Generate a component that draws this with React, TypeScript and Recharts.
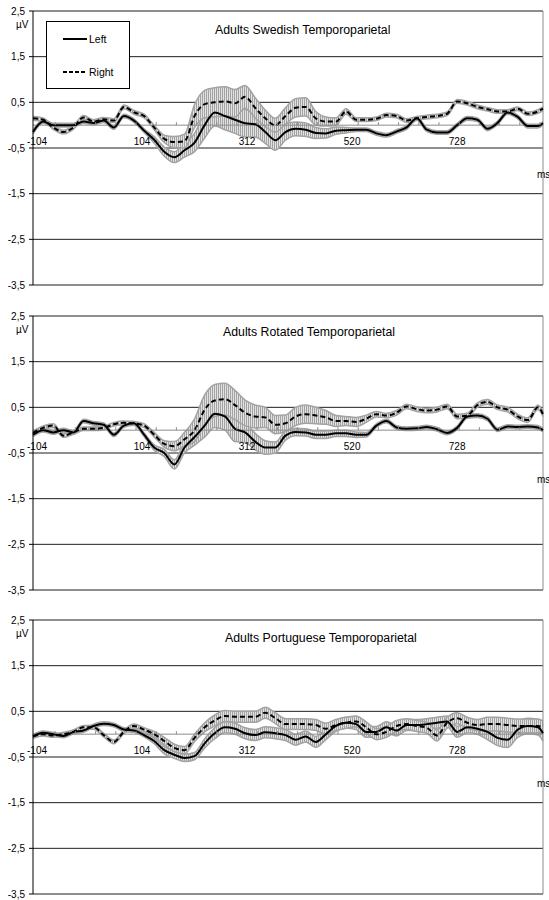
import React from "react";
import {
  ComposedChart,
  Line,
  Area,
  XAxis,
  YAxis,
  CartesianGrid,
  ReferenceLine,
  Legend,
} from "recharts";

// sample times (ms)
const times = [
  -112, -92, -72, -52, -32, -12, 8, 28, 48, 68, 88, 108, 128,
  148, 168, 188, 208, 228, 248, 268, 288, 308, 328, 348, 368, 388,
  408, 428, 448, 468, 488, 508, 528, 548, 568, 588, 608, 628, 648,
  668, 688, 708, 728, 748, 768, 788, 808, 828, 848, 868, 888, 898,
];

const labelTicks = [-104, 104, 312, 520, 728];
const minorTicks = [
  -68, -28, 12, 52, 92, 132, 172, 212, 252, 292, 332, 372, 412, 452, 492,
  532, 572, 612, 652, 692, 732, 772, 812, 852, 892,
];
const yTicks = [2.5, 1.5, 0.5, -0.5, -1.5, -2.5, -3.5];

const swedishLeft = [
  -0.15, 0.08, 0.0, 0.0, 0.0, 0.08, 0.05, 0.1, -0.05, 0.2, 0.1, -0.12, -0.32,
  -0.58, -0.7, -0.55, -0.38, 0.0, 0.28, 0.2, 0.12, 0.04, 0.02, -0.15, -0.33, -0.15,
  -0.08, -0.1, -0.17, -0.18, -0.12, -0.11, -0.1, -0.1, -0.18, -0.22, -0.14, -0.05, 0.15,
  -0.1, -0.16, -0.16, 0.0, 0.15, 0.12, -0.08, 0.05, 0.28, 0.18, -0.02, -0.02, 0.04,
];
const swedishRight = [
  0.15, 0.12, -0.05, -0.15, -0.05, 0.17, 0.08, 0.13, 0.1, 0.4, 0.28, 0.2, -0.05,
  -0.3, -0.37, -0.35, 0.2, 0.46, 0.5, 0.52, 0.48, 0.62, 0.38, 0.15, 0.0, 0.2,
  0.38, 0.4, 0.15, 0.08, 0.08, 0.3, 0.12, 0.12, 0.14, 0.22, 0.2, 0.1, 0.15,
  0.18, 0.2, 0.25, 0.52, 0.48, 0.4, 0.35, 0.3, 0.3, 0.36, 0.25, 0.3, 0.36,
];
const swedishLeftErr = [
  0.04, 0.04, 0.04, 0.04, 0.04, 0.04, 0.04, 0.04, 0.04, 0.04, 0.04, 0.04, 0.07,
  0.1, 0.12, 0.15, 0.2, 0.28, 0.3, 0.3, 0.3, 0.3, 0.28, 0.25, 0.22, 0.18,
  0.15, 0.15, 0.12, 0.1, 0.08, 0.06, 0.04, 0.04, 0.04, 0.04, 0.04, 0.04, 0.04,
  0.04, 0.04, 0.04, 0.04, 0.04, 0.04, 0.04, 0.04, 0.04, 0.04, 0.04, 0.04, 0.04,
];
const swedishRightErr = [
  0.04, 0.04, 0.04, 0.04, 0.04, 0.04, 0.04, 0.04, 0.04, 0.04, 0.04, 0.04, 0.05,
  0.08, 0.12, 0.15, 0.25, 0.3, 0.32, 0.32, 0.3, 0.25, 0.22, 0.18, 0.15, 0.18,
  0.2, 0.2, 0.15, 0.1, 0.08, 0.06, 0.04, 0.04, 0.04, 0.04, 0.04, 0.04, 0.04,
  0.04, 0.04, 0.04, 0.04, 0.04, 0.04, 0.04, 0.04, 0.04, 0.04, 0.04, 0.04, 0.04,
];

const rotatedLeft = [
  -0.1, 0.0, -0.05, 0.0, -0.05, 0.2, 0.15, 0.12, -0.1, 0.1, 0.15, -0.1, -0.38,
  -0.5, -0.75, -0.38, -0.15, 0.1, 0.36, 0.3, 0.03, -0.05, -0.25, -0.38, -0.38, -0.12,
  -0.04, -0.05, -0.1, -0.1, -0.07, -0.07, -0.1, -0.1, 0.1, 0.2, 0.06, 0.03, 0.04,
  0.07, 0.02, -0.06, 0.05, 0.3, 0.32, 0.25, 0.01, 0.08, 0.07, 0.08, 0.06, 0.0,
];
const rotatedRight = [
  -0.06, 0.05, 0.1, -0.12, -0.05, 0.03, 0.03, 0.05, 0.13, 0.16, 0.15, 0.1, -0.1,
  -0.3, -0.35, -0.2, 0.0, 0.45, 0.65, 0.68, 0.55, 0.38, 0.3, 0.28, 0.12, 0.15,
  0.3, 0.35, 0.32, 0.28, 0.2, 0.2, 0.18, 0.25, 0.35, 0.32, 0.38, 0.52, 0.46,
  0.43, 0.45, 0.52, 0.3, 0.32, 0.55, 0.62, 0.5, 0.45, 0.3, 0.22, 0.5, 0.35,
];
const rotatedLeftErr = [
  0.04, 0.04, 0.04, 0.04, 0.04, 0.04, 0.04, 0.04, 0.04, 0.04, 0.04, 0.04, 0.06,
  0.08, 0.1, 0.12, 0.18, 0.25, 0.3, 0.3, 0.28, 0.22, 0.18, 0.15, 0.12, 0.1,
  0.08, 0.08, 0.08, 0.08, 0.07, 0.07, 0.06, 0.05, 0.04, 0.04, 0.04, 0.04, 0.04,
  0.04, 0.04, 0.04, 0.04, 0.04, 0.04, 0.04, 0.04, 0.04, 0.04, 0.04, 0.04, 0.04,
];
const rotatedRightErr = [
  0.04, 0.04, 0.04, 0.04, 0.04, 0.04, 0.04, 0.04, 0.04, 0.04, 0.04, 0.04, 0.05,
  0.07, 0.1, 0.15, 0.25, 0.32, 0.35, 0.35, 0.32, 0.28, 0.25, 0.22, 0.2, 0.18,
  0.2, 0.2, 0.18, 0.15, 0.12, 0.1, 0.1, 0.08, 0.06, 0.05, 0.05, 0.05, 0.05,
  0.05, 0.05, 0.05, 0.05, 0.05, 0.05, 0.05, 0.05, 0.05, 0.05, 0.05, 0.05, 0.05,
];

const portugueseLeft = [
  -0.05, 0.03, 0.0, -0.04, 0.05, 0.08, 0.18, 0.23, 0.2, 0.1, 0.08, -0.02, -0.15,
  -0.35, -0.45, -0.52, -0.48, -0.2, 0.02, 0.15, 0.12, 0.02, -0.02, 0.04, 0.02, -0.02,
  -0.12, -0.05, -0.17, 0.0, 0.18, 0.25, 0.22, 0.05, 0.05, 0.15, 0.08, 0.2, 0.2,
  0.22, 0.25, 0.28, 0.05, 0.15, 0.12, 0.05, -0.08, -0.12, 0.1, 0.18, 0.15, 0.02,
];
const portugueseRight = [
  -0.05, 0.0, -0.03, 0.0, 0.05, 0.15, 0.15, -0.02, -0.17, 0.05, 0.18, 0.1, 0.0,
  -0.15, -0.3, -0.35, -0.08, 0.15, 0.3, 0.4, 0.38, 0.38, 0.38, 0.47, 0.35, 0.22,
  0.22, 0.22, 0.2, 0.12, 0.2, 0.25, 0.28, 0.15, 0.0, 0.05, 0.18, 0.22, 0.18,
  0.14, -0.03, 0.25, 0.35, 0.25, 0.2, 0.22, 0.22, 0.2, 0.18, 0.18, 0.18, 0.14,
];
const portugueseLeftErr = [
  0.04, 0.04, 0.04, 0.04, 0.04, 0.04, 0.04, 0.04, 0.04, 0.04, 0.04, 0.04, 0.06,
  0.08, 0.08, 0.08, 0.08, 0.1, 0.12, 0.12, 0.12, 0.12, 0.12, 0.12, 0.12, 0.12,
  0.12, 0.12, 0.12, 0.12, 0.12, 0.12, 0.12, 0.12, 0.12, 0.12, 0.12, 0.12, 0.12,
  0.12, 0.12, 0.12, 0.12, 0.12, 0.12, 0.17, 0.17, 0.17, 0.17, 0.17, 0.17, 0.17,
];
const portugueseRightErr = [
  0.04, 0.04, 0.04, 0.04, 0.04, 0.04, 0.04, 0.04, 0.04, 0.04, 0.04, 0.04, 0.06,
  0.08, 0.08, 0.08, 0.08, 0.1, 0.12, 0.12, 0.12, 0.12, 0.12, 0.12, 0.12, 0.12,
  0.12, 0.12, 0.12, 0.12, 0.12, 0.12, 0.12, 0.12, 0.12, 0.12, 0.12, 0.12, 0.12,
  0.12, 0.12, 0.12, 0.12, 0.12, 0.12, 0.15, 0.15, 0.15, 0.15, 0.15, 0.15, 0.15,
];

const FONT = '"Liberation Sans", Arial, sans-serif';
const W = 549;
const H = 304;
const TOP = 11;
const PLOT_H = 274;
const ZERO_Y = TOP + (PLOT_H * 2.5) / 6;
const FRAME = "#8c8c8c";

const panels = [
  {
    title: "Adults Swedish Temporoparietal",
    top: 0,
    titleLeft: 215,
    titleTop: 23.6,
    left: swedishLeft,
    right: swedishRight,
    leftErr: swedishLeftErr,
    rightErr: swedishRightErr,
    legend: true,
  },
  {
    title: "Adults Rotated Temporoparietal",
    top: 305,
    titleLeft: 223,
    titleTop: 21.1,
    left: rotatedLeft,
    right: rotatedRight,
    leftErr: rotatedLeftErr,
    rightErr: rotatedRightErr,
    legend: false,
  },
  {
    title: "Adults Portuguese Temporoparietal",
    top: 609,
    titleLeft: 225,
    titleTop: 22.6,
    left: portugueseLeft,
    right: portugueseRight,
    leftErr: portugueseLeftErr,
    rightErr: portugueseRightErr,
    legend: false,
  },
];

function XTick(props: any) {
  const { x, payload } = props;
  const v = payload.value;
  if (labelTicks.includes(v)) {
    return (
      <text x={x} y={ZERO_Y + 20} textAnchor="middle" fontSize={10} fill="#000" fontFamily={FONT}>
        {v}
      </text>
    );
  }
  return <line x1={x} x2={x} y1={ZERO_Y} y2={ZERO_Y - 3} stroke={FRAME} />;
}

function LegendBox(props: any) {
  const items = (props.payload || []).filter(
    (p: any) => p.type !== "none" && (p.value === "Left" || p.value === "Right")
  );
  return (
    <div
      style={{
        width: 84,
        height: 68,
        border: "1px solid #000",
        boxSizing: "border-box",
        background: "#fff",
        position: "relative",
        fontFamily: FONT,
        fontSize: 10.5,
        color: "#000",
      }}
    >
      {items.map((p: any, i: number) => (
        <div
          key={p.value}
          style={{
            position: "absolute",
            left: 16,
            top: i === 0 ? 10 : 43,
            height: 14,
            display: "flex",
            alignItems: "center",
            whiteSpace: "nowrap",
          }}
        >
          <svg width={24} height={4} style={{ display: "block" }}>
            <line
              x1={0}
              x2={24}
              y1={2}
              y2={2}
              stroke="#000"
              strokeWidth={2}
              strokeDasharray={p.value === "Right" ? "4 2" : undefined}
            />
          </svg>
          <span style={{ marginLeft: 2, lineHeight: "14px" }}>{p.value}</span>
        </div>
      ))}
    </div>
  );
}

function Panel({ p, idx }: { p: (typeof panels)[number]; idx: number }) {
  const data = times.map((t, i) => ({
    t,
    left: p.left[i],
    right: p.right[i],
    leftBand: [p.left[i] - p.leftErr[i], p.left[i] + p.leftErr[i]],
    rightBand: [p.right[i] - p.rightErr[i], p.right[i] + p.rightErr[i]],
  }));
  const hatch = `hatch${idx}`;

  return (
    <div style={{ position: "absolute", left: 0, top: p.top, width: W, height: H }}>
      <ComposedChart
        width={W}
        height={H}
        data={data}
        margin={{ top: TOP, right: 6, left: 0, bottom: 0 }}
      >
        <defs>
          <pattern id={hatch} width="2" height="4" patternUnits="userSpaceOnUse">
            <rect x="0" y="0" width="2" height="4" fill="#e2e2e2" />
            <rect x="0" y="0" width="1" height="4" fill="#a3a3a3" />
          </pattern>
        </defs>
        <CartesianGrid horizontal vertical={false} stroke="#1e1e1e" />
        <XAxis
          dataKey="t"
          type="number"
          domain={[-112, 898]}
          ticks={[...labelTicks, ...minorTicks]}
          interval={0}
          tick={(tp: any) => <XTick {...tp} />}
          axisLine={false}
          tickLine={false}
          tickSize={0}
          tickMargin={0}
          height={H - TOP - PLOT_H}
        />
        <YAxis
          type="number"
          domain={[-3.5, 2.5]}
          ticks={yTicks}
          interval={0}
          width={33}
          tickFormatter={(v: number) => v.toFixed(1).replace(".", ",")}
          tick={{ fontSize: 10, fill: "#000", fontFamily: FONT }}
          axisLine={{ stroke: "#000" }}
          tickLine={{ stroke: "#000" }}
          tickSize={4}
          tickMargin={4}
        />
        <ReferenceLine y={2.5} stroke={FRAME} />
        <ReferenceLine y={-3.5} stroke={FRAME} />
        <ReferenceLine x={898} stroke={FRAME} />
        <ReferenceLine y={0} stroke={FRAME} />
        <Area
          type="monotone"
          dataKey="leftBand"
          stroke="#a3a3a3"
          strokeWidth={1.5}
          fill={`url(#${hatch})`}
          fillOpacity={1}
          legendType="none"
          dot={false}
          activeDot={false}
          isAnimationActive={false}
        />
        <Area
          type="monotone"
          dataKey="rightBand"
          stroke="#a3a3a3"
          strokeWidth={1.5}
          fill={`url(#${hatch})`}
          fillOpacity={1}
          legendType="none"
          dot={false}
          activeDot={false}
          isAnimationActive={false}
        />
        <Line
          type="monotone"
          dataKey="left"
          name="Left"
          stroke="#000"
          strokeWidth={2}
          dot={false}
          activeDot={false}
          isAnimationActive={false}
        />
        <Line
          type="monotone"
          dataKey="right"
          name="Right"
          stroke="#000"
          strokeWidth={2}
          strokeDasharray="5 3"
          dot={false}
          activeDot={false}
          isAnimationActive={false}
        />
        {p.legend && (
          <Legend
            layout="horizontal"
            verticalAlign="middle"
            align="center"
            content={(lp: any) => <LegendBox {...lp} />}
            wrapperStyle={{ position: "absolute", left: 46, top: 21, width: 84, height: 68 }}
          />
        )}
      </ComposedChart>
      <div
        style={{
          position: "absolute",
          left: p.titleLeft,
          top: p.titleTop,
          fontSize: 12.3,
          lineHeight: 1,
          whiteSpace: "nowrap",
        }}
      >
        {p.title}
      </div>
      <div style={{ position: "absolute", left: 16, top: 20, fontSize: 10, lineHeight: 1 }}>µV</div>
      <div style={{ position: "absolute", left: 537, top: 169.5, fontSize: 10, lineHeight: 1 }}>ms</div>
    </div>
  );
}

export default function App() {
  return (
    <div
      style={{
        position: "absolute",
        left: 0,
        top: 0,
        width: W,
        height: 900,
        overflow: "hidden",
        background: "#fff",
        fontFamily: FONT,
        color: "#000",
      }}
    >
      {panels.map((p, i) => (
        <Panel key={p.title} p={p} idx={i} />
      ))}
    </div>
  );
}
